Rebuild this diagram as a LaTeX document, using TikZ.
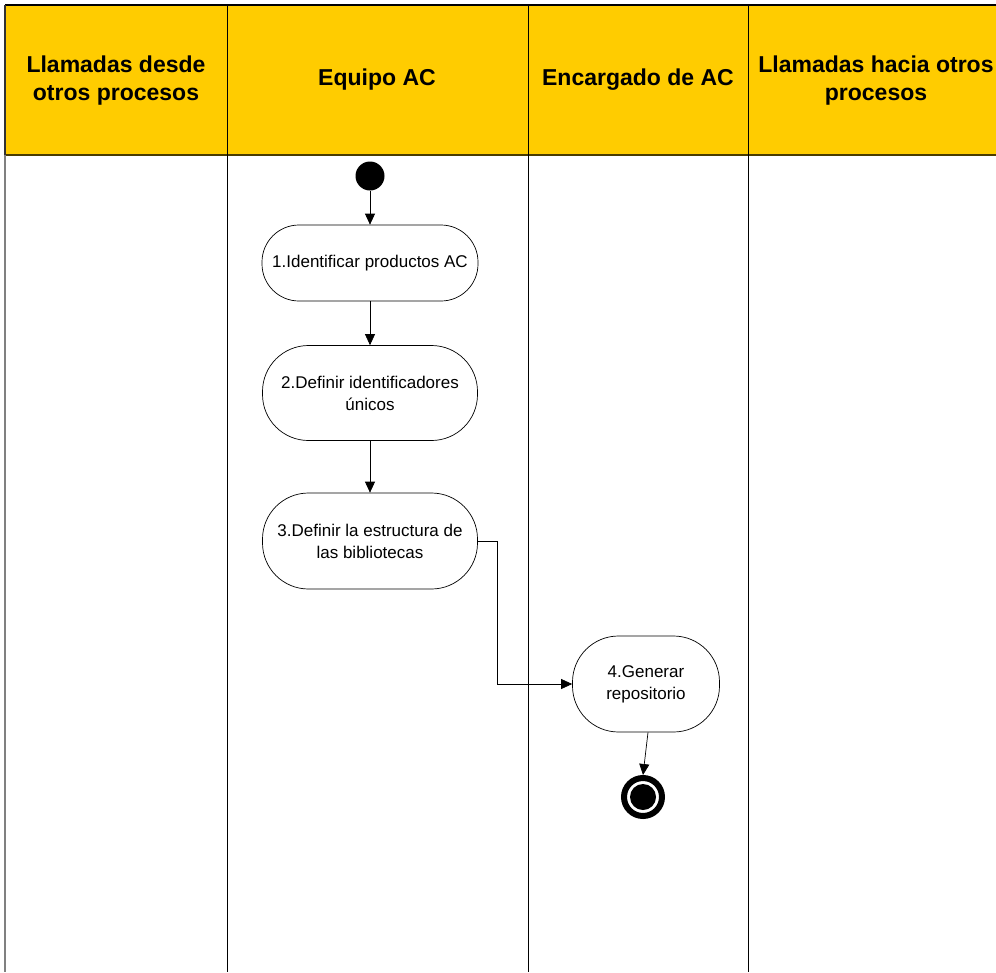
\documentclass[tikz,border=0pt]{standalone}
\usepackage{fontspec}
\setmainfont{Liberation Sans}
\usetikzlibrary{arrows.meta}
\definecolor{laneyellow}{HTML}{FFCC00}
\definecolor{laneedge}{HTML}{4A3C00}
\tikzset{
  lanehead/.style={font=\fontsize{23}{28}\selectfont\bfseries, align=center, inner sep=0pt},
  activity/.style={draw, fill=white, line width=0.7pt,
    font=\fontsize{17}{22}\selectfont, align=center, inner sep=0pt},
  flow/.style={-{Triangle[length=11pt,width=10pt]}, line width=0.7pt},
}
\begin{document}
\begin{tikzpicture}[x=1pt,y=-1pt]
  \useasboundingbox (0,0) rectangle (996,972);
  % lane headers
  \fill[laneyellow] (5,5) rectangle (996,155);
  \draw[line width=1.2pt] (5,5) -- (996,5);
  \draw[laneedge, line width=1.6pt] (5,155) -- (996,155);
  \draw[black!80, line width=1.2pt] (5,5) -- (5,155);
  \draw[gray, line width=1.4pt] (5,155) -- (5,972);
  % lane separators
  \foreach \x in {227,528,748} \draw[line width=1pt] (\x,5) -- (\x,972);
  % lane titles
  \node[lanehead] (h1) at (116,81) {Llamadas desde\\otros procesos};
  \node[lanehead] (h2) at (377,80) {Equipo AC};
  \node[lanehead] (h3) at (638,80) {Encargado de AC};
  \node[lanehead] (h4) at (876,81) {Llamadas hacia otros\\procesos};
  % activities
  \node[circle, fill=black, minimum size=29pt, inner sep=0pt] (start) at (370,176) {};
  \node[activity, rounded corners=37pt, minimum width=216pt, minimum height=76pt] (a1) at (370,263) {1.Identificar productos AC};
  \node[activity, rounded corners=46pt, minimum width=215pt, minimum height=95pt] (a2) at (370,393) {2.Definir identificadores\\únicos};
  \node[activity, rounded corners=46pt, minimum width=215pt, minimum height=96pt] (a3) at (370,541) {3.Definir la estructura de\\las bibliotecas};
  \node[activity, rounded corners=46pt, minimum width=147pt, minimum height=96pt] (a4) at (646,684) {4.Generar\\repositorio};
  % final node
  \node[circle, draw, line width=6pt, minimum size=38pt, inner sep=0pt] (stop) at (643,797) {};
  \fill[black] (stop.center) circle (13pt);
  % flows
  \draw[flow] (start) -- (a1);
  \draw[flow] (a1) -- (a2);
  \draw[flow] (a2) -- (a3);
  \draw[flow] (a3.east) -- (497,541) -- (497,684) -- (a4.west);
  \draw[flow] (a4.south) ++(2,0) coordinate (a4b) -- (stop.north);
\end{tikzpicture}
\end{document}
